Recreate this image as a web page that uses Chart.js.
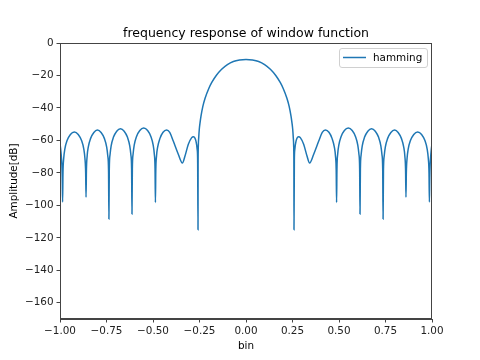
<!DOCTYPE html>
<html>
<head>
<meta charset="utf-8">
<style>
  html, body { margin: 0; padding: 0; background: #fff; }
  #wrap { width: 480px; height: 360px; }
</style>
</head>
<body>
<div id="wrap"><canvas id="respChart" width="480" height="360"></canvas></div>

<script src="https://cdn.jsdelivr.net/npm/chart.js"></script>
<script>
    // valeurs (bin, dB)
    var binX = [
        -1.000, -0.995, -0.990, -0.988, -0.986,
        -0.984, -0.980, -0.974, -0.962, -0.944, -0.923, -0.902, -0.884, -0.872, -0.866, -0.862, -0.860,
        -0.858, -0.854, -0.848, -0.836, -0.818, -0.799, -0.779, -0.761, -0.749, -0.743, -0.739, -0.737,
        -0.735, -0.731, -0.725, -0.713, -0.695, -0.675, -0.655, -0.637, -0.625, -0.619, -0.615, -0.613,
        -0.611, -0.607, -0.601, -0.589, -0.571, -0.550, -0.529, -0.511, -0.499, -0.493, -0.489, -0.487,
        -0.485, -0.481, -0.475, -0.463, -0.446, -0.427, -0.410, -0.391, -0.364, -0.342, -0.328, -0.310,
        -0.292, -0.283, -0.269, -0.262, -0.260, -0.258,
        -0.2575, -0.2565, -0.254, -0.251, -0.247, -0.242, -0.232, -0.220, -0.200, -0.184,
        -0.160, -0.131, -0.100, -0.068, -0.035, 0.000,
        0.035, 0.068, 0.100, 0.131, 0.160, 0.184, 0.200, 0.220, 0.232, 0.242,
        0.247, 0.251, 0.254, 0.2565, 0.2575,
        0.258, 0.260, 0.262, 0.269, 0.283, 0.292,
        0.310, 0.328, 0.342, 0.364, 0.391, 0.410, 0.427, 0.446, 0.463, 0.475, 0.481, 0.485,
        0.487, 0.489, 0.493, 0.499, 0.511, 0.529, 0.550, 0.571, 0.589, 0.601, 0.607, 0.611,
        0.613, 0.615, 0.619, 0.625, 0.637, 0.655, 0.675, 0.695, 0.713, 0.725, 0.731, 0.735,
        0.737, 0.739, 0.743, 0.749, 0.761, 0.779, 0.799, 0.818, 0.836, 0.848, 0.854, 0.858,
        0.860, 0.862, 0.866, 0.872, 0.884, 0.902, 0.923, 0.944, 0.962, 0.974, 0.980, 0.984,
        0.986, 0.988, 0.990, 0.995, 1.000
    ];
    var ampDb = [
        -62, -67, -75, -83, -98,
        -80, -71, -65.3, -60.1, -56.3, -54.8, -56.3, -60.1, -65.3, -71, -80, -95,
        -78.6, -69.6, -64.1, -58.9, -55.1, -53.6, -55.1, -58.9, -64.1, -69.6, -78.6, -108.4,
        -77.8, -68.8, -63.3, -58.1, -54.3, -52.8, -54.3, -58.1, -63.3, -68.8, -77.8, -105.4,
        -77.4, -68.4, -62.9, -57.7, -53.9, -52.4, -53.9, -57.7, -62.9, -68.4, -77.4, -98.2,
        -78.6, -69.6, -64.1, -58.9, -55, -53.6, -55, -60.4, -68.5, -73.9, -69.6, -62.4,
        -58.3, -57.7, -60.4, -66, -72, -115,
        -76, -64, -58, -53, -49, -45, -39, -34, -28, -24.3,
        -20, -16.2, -13.3, -11.4, -10.5, -10.2,
        -10.5, -11.4, -13.3, -16.2, -20, -24.3, -28, -34, -39, -45,
        -49, -53, -58, -64, -76,
        -115, -72, -66, -60.4, -57.7, -58.3,
        -62.4, -69.6, -73.9, -68.5, -60.4, -55, -53.6, -55, -58.9, -64.1, -69.6, -78.6,
        -98.2, -77.4, -68.4, -62.9, -57.7, -53.9, -52.4, -53.9, -57.7, -62.9, -68.4, -77.4,
        -105.4, -77.8, -68.8, -63.3, -58.1, -54.3, -52.8, -54.3, -58.1, -63.3, -68.8, -77.8,
        -108.4, -78.6, -69.6, -64.1, -58.9, -55.1, -53.6, -55.1, -58.9, -64.1, -69.6, -78.6,
        -95, -80, -71, -65.3, -60.1, -56.3, -54.8, -56.3, -60.1, -65.3, -71, -80,
        -98, -83, -75, -67, -62
    ];
    var xTicks = [-1, -0.75, -0.5, -0.25, 0, 0.25, 0.5, 0.75, 1];
    var yTicks = [0, -20, -40, -60, -80, -100, -120, -140, -160];

    var lineColor = '#1f77b4';
    var axisColor = '#444';
    var fontFam = '"DejaVu Sans", sans-serif';

    function moins(s) { return String(s).replace('-', '\u2212'); }

    // cadre, titre et légende façon matplotlib
    var habillage = {
        id: 'habillage',
        afterDraw: function(chart) {
            var ctx = chart.ctx, a = chart.chartArea;
            ctx.save();
            ctx.strokeStyle = axisColor;
            ctx.lineWidth = 1;
            ctx.strokeRect(a.left + 0.5, a.top + 0.5, a.right - a.left - 1, a.bottom - a.top - 1);

            ctx.fillStyle = '#000';
            ctx.font = '12.5px ' + fontFam;
            ctx.textAlign = 'center';
            ctx.textBaseline = 'alphabetic';
            ctx.fillText('frequency response of window function', (a.left + a.right) / 2, 36.5);

            // légende
            var bx = 339, by = 48, bw = 88, bh = 19;
            ctx.beginPath();
            ctx.roundRect(bx + 0.5, by + 0.5, bw, bh, 2.5);
            ctx.fillStyle = 'rgba(255,255,255,0.8)';
            ctx.fill();
            ctx.strokeStyle = '#d0d0d0';
            ctx.stroke();
            ctx.beginPath();
            ctx.moveTo(343, by + 9.5);
            ctx.lineTo(366, by + 9.5);
            ctx.strokeStyle = lineColor;
            ctx.lineWidth = 1.5;
            ctx.stroke();
            ctx.fillStyle = '#000';
            ctx.font = '10.4px ' + fontFam;
            ctx.textAlign = 'left';
            ctx.textBaseline = 'middle';
            ctx.fillText(chart.data.datasets[0].label, 373, by + 10);
            ctx.restore();
        }
    };

    var data = {
        datasets: [{
            label: 'hamming',
            data: binX.map(function(x, i) { return {x: x, y: ampDb[i]}; }),
            borderColor: lineColor,
            borderWidth: 1.5,
            pointRadius: 0,
            fill: false,
            cubicInterpolationMode: 'monotone'
        }]
    };

    var options = {
        responsive: false,
        animation: false,
        layout: { padding: { top: 43, right: 48, left: 0, bottom: 0 } },
        plugins: { legend: { display: false }, title: { display: false }, tooltip: { enabled: false } },
        scales: {
            x: {
                type: 'linear',
                min: -1,
                max: 1,
                afterFit: function(s) { s.height = 41; },
                afterBuildTicks: function(s) { s.ticks = xTicks.map(function(v) { return {value: v}; }); },
                ticks: {
                    color: '#222', padding: 3, maxRotation: 0,
                    font: { family: fontFam, size: 10.4 },
                    callback: function(v) { return moins(Number(v).toFixed(2)); }
                },
                grid: { drawOnChartArea: false, tickLength: 3.5, color: axisColor },
                border: { display: true, color: axisColor },
                title: {
                    display: true, text: 'bin', color: '#000',
                    font: { family: fontFam, size: 10.4, lineHeight: 1.2 },
                    padding: { top: 0, bottom: 7 }
                }
            },
            y: {
                min: -170,
                max: 0,
                afterFit: function(s) { s.width = 60; },
                afterBuildTicks: function(s) { s.ticks = yTicks.map(function(v) { return {value: v}; }); },
                ticks: {
                    color: '#222', padding: 3,
                    font: { family: fontFam, size: 10.4 },
                    callback: function(v) { return moins(v); }
                },
                grid: { drawOnChartArea: false, tickLength: 3.5, color: axisColor },
                border: { display: true, color: axisColor },
                title: {
                    display: true, text: 'Amplitude[dB]', color: '#000',
                    font: { family: fontFam, size: 10.4, lineHeight: 1.2 },
                    padding: { top: 8, bottom: 0 }
                }
            }
        }
    };

    var ctx = document.getElementById('respChart').getContext('2d');
    var respChart = new Chart(ctx, { type: 'line', data: data, options: options, plugins: [habillage] });
</script>
</body>
</html>
